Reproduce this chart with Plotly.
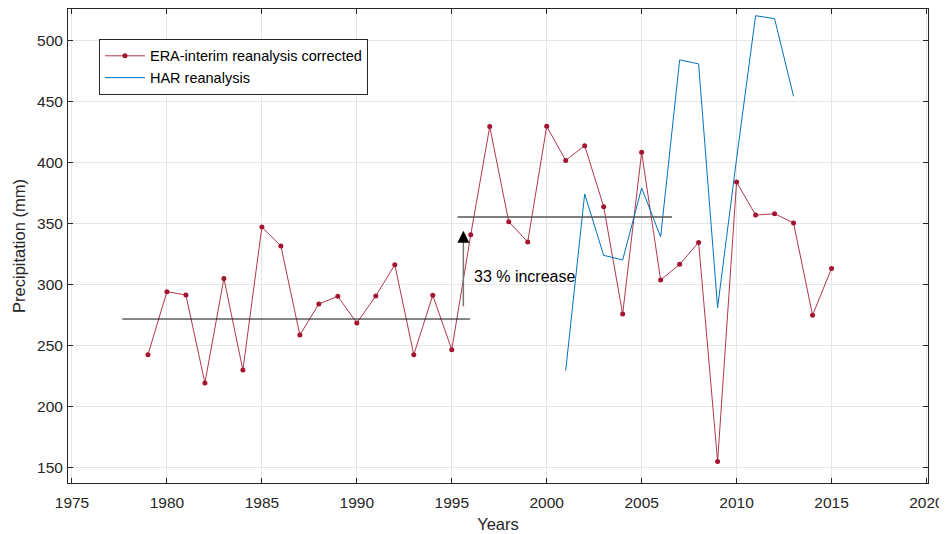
import plotly.graph_objects as go

# ---- data ----
era_years = list(range(1979, 2016))
era_precip = [242.4, 294.0, 291.3, 219.2, 304.9, 229.8, 347.0, 331.5, 258.5, 283.9,
              290.2, 268.4, 290.5, 316.1, 242.4, 291.0, 246.5, 340.7, 429.3, 351.4,
              334.8, 429.5, 401.6, 413.7, 363.7, 275.7, 408.2, 303.6, 316.4, 334.4,
              154.8, 383.9, 356.8, 357.9, 350.3, 274.7, 313.1]

har_years = list(range(2001, 2014))
har_precip = [229.3, 374.1, 323.8, 320.0, 379.0, 338.9, 484.0, 480.7, 280.9,
              403.0, 520.2, 517.8, 454.1]

mean1_x = [1977.65, 1995.96]
mean1_y = [271.6, 271.6]
mean2_x = [1995.3, 2006.6]
mean2_y = [355.2, 355.2]

arrow_x = 1995.61
arrow_from = 280.9
arrow_to = 344.0
label_text = "33 % increase"
label_x = 1996.05
label_y = 306.6

x_ticks = list(range(1975, 2021, 5))
y_ticks = list(range(150, 501, 50))

FONT = "Liberation Sans, Arial, sans-serif"
TXT = "#262626"

fig = go.Figure()

fig.add_trace(go.Scatter(
    x=era_years, y=era_precip, mode="lines+markers",
    name="ERA-interim reanalysis corrected",
    line=dict(color="rgba(162,20,47,0.85)", width=1),
    marker=dict(color="#A2142F", size=5),
))
fig.add_trace(go.Scatter(
    x=har_years, y=har_precip, mode="lines",
    name="HAR reanalysis",
    line=dict(color="#0072BD", width=1),
))
fig.add_trace(go.Scatter(
    x=mean1_x, y=mean1_y, mode="lines", showlegend=False,
    line=dict(color="#111111", width=1), hoverinfo="skip",
))
fig.add_trace(go.Scatter(
    x=mean2_x, y=mean2_y, mode="lines", showlegend=False,
    line=dict(color="#555555", width=1.5), hoverinfo="skip",
))

# arrow shaft (gray)
fig.add_annotation(
    x=arrow_x, y=arrow_to - 6, ax=arrow_x, ay=arrow_from,
    xref="x", yref="y", axref="x", ayref="y",
    showarrow=True, arrowhead=0, arrowwidth=1.5, arrowcolor="#777777", text="",
)
# arrow head (black)
fig.add_annotation(
    x=arrow_x, y=arrow_to, ax=arrow_x, ay=arrow_to - 8,
    xref="x", yref="y", axref="x", ayref="y",
    showarrow=True, arrowhead=2, arrowsize=1.5, arrowwidth=1.6, arrowcolor="#000000",
    text="",
)
fig.add_annotation(
    x=label_x, y=label_y, xref="x", yref="y", text=label_text,
    showarrow=False, xanchor="left", yanchor="middle",
    font=dict(family=FONT, size=16, color="#000000"),
)

axis_common = dict(
    showgrid=True, gridcolor="#E6E6E6", gridwidth=1,
    showline=True, linecolor="#262626", linewidth=1, mirror="ticks",
    ticks="inside", ticklen=5, tickcolor="#262626",
    tickfont=dict(family=FONT, size=15.5, color=TXT),
    zeroline=False, automargin=False,
)

fig.update_xaxes(
    range=[1974.79, 2020.08], tickvals=x_ticks, ticklabelstandoff=5,
    title=dict(text="Years", font=dict(family=FONT, size=16.5, color=TXT), standoff=8),
    **axis_common,
)
fig.update_yaxes(
    range=[137.2, 525.7], tickvals=y_ticks, ticklabelstandoff=1,
    title=dict(text="Precipitation (mm)", font=dict(family=FONT, size=16.5, color=TXT), standoff=7),
    **axis_common,
)

# the page body adds an 8px offset; size the figure so the plot area lands where the reference has it
fig.update_layout(
    width=939, height=526,
    margin=dict(l=60, r=19, t=1, b=51),
    paper_bgcolor="white", plot_bgcolor="white",
    font=dict(family=FONT, color=TXT),
    legend=dict(
        x=0.036, y=0.937, xanchor="left", yanchor="top",
        bgcolor="white", bordercolor="#262626", borderwidth=1,
        font=dict(family=FONT, size=14.5, color="#000000"),
        tracegroupgap=0, itemwidth=40,
    ),
    showlegend=True,
)

fig.write_html("out.html")
